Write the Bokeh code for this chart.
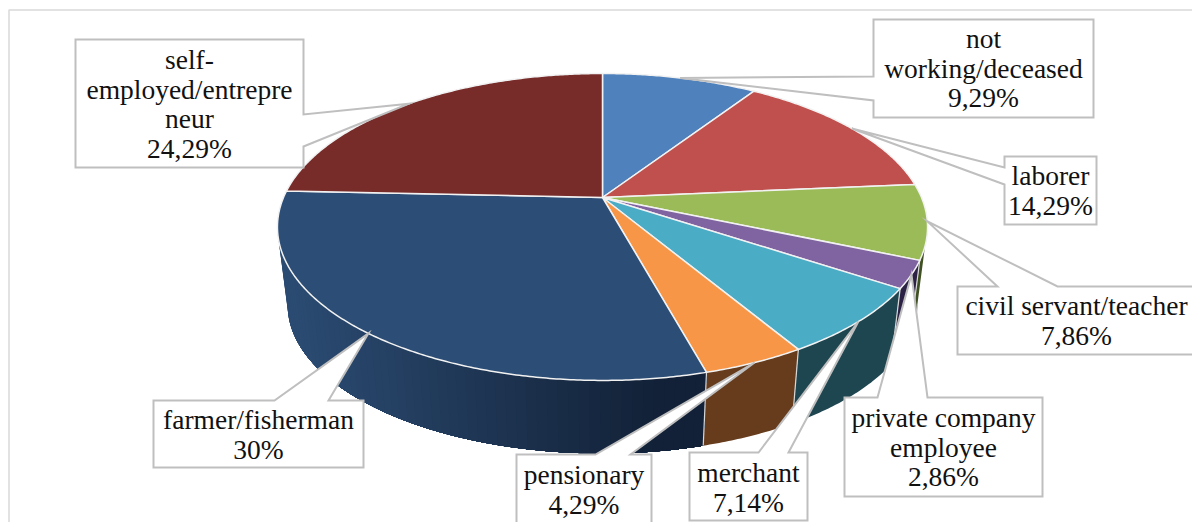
import math

from bokeh.core.properties import value
from bokeh.embed import file_html
from bokeh.plotting import figure
from bokeh.resources import INLINE

# Shares of respondents by occupation, clockwise from twelve o'clock
occupations = ["not working/deceased", "laborer", "civil servant/teacher",
               "private company employee", "merchant", "pensionary",
               "farmer/fisherman", "self-employed/entrepreneur"]
shares = [9.29, 14.29, 7.86, 2.86, 7.14, 4.29, 30.0, 24.29]
share_labels = ["9,29%", "14,29%", "7,86%", "2,86%", "7,14%", "4,29%", "30%", "24,29%"]
label_rows = [["not", "working/deceased"], ["laborer"], ["civil servant/teacher"],
              ["private company", "employee"], ["merchant"], ["pensionary"],
              ["farmer/fisherman"], ["self-", "employed/entrepre", "neur"]]

top_colors = ["#4f81bd", "#c0504d", "#9bbb59", "#8064a2", "#4bacc6", "#f79646", "#2c4d75", "#772c2a"]
wall_colors = ["#2a4568", "#663030", "#3f5022", "#2b2245", "#1e4650", "#663c1d", None, "#3f1817"]
FARMER_WALL_LEFT = (43, 75, 114)
FARMER_WALL_RIGHT = (18, 33, 55)

# Callout box (left, top, right, bottom), the side the pointer leaves from and
# the two points where it meets that side.
callouts = [
    ((873, 19, 1093, 117), "left", (76, 100)),
    ((1004, 156, 1096, 224), "left", (167, 184)),
    ((957, 286, 1198, 354), "top", (997, 1057)),
    ((844, 397, 1042, 496), "top", (877, 927)),
    ((689, 452, 807, 520), "top", (758, 788)),
    ((516, 454, 651, 530), "top", (595, 630)),
    ((153, 400, 363, 467), "top", (274, 328)),
    ((75, 39, 303, 167), "right", (114, 146)),
]
label_first_row_y = [38, 175, 305, 417, 472, 474, 419, 59]
LINE_STEP = 29.6

# Perspective disc: top face and the smaller, lower bottom face
CX = 602
TOP_FACE = dict(cy=197.0, r=319.0, a=147.8)
BOTTOM_FACE = dict(cy=276.0, r=309.0, a=143.0)
TILT = 0.192
# Angles where the wall's silhouette meets the top face
WALL_START, WALL_END = 101.0, 259.0


def project(angle, face):
    """Map a clockwise angle from twelve o'clock to page coordinates."""
    t = math.radians(angle)
    u, v = math.sin(t), -math.cos(t)
    s = 1.0 / (1.0 - TILT * v)
    return CX + face["r"] * u * s, face["cy"] + face["a"] * v * s


def arc(a0, a1, face, step=1.0):
    n = max(2, int(abs(a1 - a0) / step) + 1)
    pts = [project(a0 + (a1 - a0) * i / (n - 1), face) for i in range(n)]
    return [q[0] for q in pts], [q[1] for q in pts]


def wall_polygon(a0, a1):
    x0, y0 = arc(a0, a1, TOP_FACE, 0.5)
    x1, y1 = arc(a1, a0, BOTTOM_FACE, 0.5)
    return x0 + x1, y0 + y1


total = sum(shares)
edges = [0.0]
for share in shares:
    edges.append(edges[-1] + share / total * 360.0)

p = figure(width=1192, height=522, x_range=(0, 1192), y_range=(522, 0),
           output_backend="svg", toolbar_location=None, min_border=0)
p.axis.visible = False
p.grid.visible = False
p.outline_line_color = None
p.background_fill_color = "white"
p.border_fill_color = "white"

# Chart area frame, cut by the page on the right and at the bottom
p.line([8.5, 8.5, 1192], [522, 9.5, 9.5], line_color="#d9d9d9", line_width=1.5)

# Side walls. The shaded wall is painted as strips that each reach back to the
# slice's far end, so no background shows between neighbouring strips.
for i in range(len(shares)):
    a0, a1 = max(edges[i], WALL_START), min(edges[i + 1], WALL_END)
    if a1 <= a0:
        continue
    if wall_colors[i] is not None:
        xs, ys = wall_polygon(a0, a1)
        p.patch(xs, ys, fill_color=wall_colors[i], line_color=None)
        continue
    n = 60
    for k in range(n):
        b1 = a1 - (a1 - a0) * k / n
        xs, ys = wall_polygon(a0, b1)
        f = min(1.0, max(0.0, (project(b1, TOP_FACE)[0] - 287) / (650 - 287)))
        rgb = [round(l + (r - l) * f) for l, r in zip(FARMER_WALL_LEFT, FARMER_WALL_RIGHT)]
        p.patch(xs, ys, fill_color="#%02x%02x%02x" % tuple(rgb), line_color=None)

# Pale seams between neighbouring walls
for edge in edges[1:]:
    if WALL_START < edge < WALL_END:
        xa, ya = project(edge, TOP_FACE)
        xb, yb = project(edge, BOTTOM_FACE)
        p.line([xa, xb], [ya, yb], line_color="#d8d8d8", line_width=1.2)

# Top face
for i in range(len(shares)):
    xs, ys = arc(edges[i], edges[i + 1], TOP_FACE, 0.5)
    p.patch([CX] + xs, [TOP_FACE["cy"]] + ys, fill_color=top_colors[i],
            line_color="#f2f2f2", line_width=1.5, line_join="round")

# Callouts: the pointer tip sits on the rim at the slice's mid-angle
for i, (box, side, (g0, g1)) in enumerate(callouts):
    tx, ty = project((edges[i] + edges[i + 1]) / 2.0, TOP_FACE)
    left, top, right, bottom = box
    if side == "left":
        xs = [left, right, right, left, left, tx, left]
        ys = [top, top, bottom, bottom, g1, ty, g0]
    elif side == "right":
        xs = [left, right, right, tx, right, right, left]
        ys = [top, top, g0, ty, g1, bottom, bottom]
    else:
        xs = [left, g0, tx, g1, right, right, left]
        ys = [top, top, ty, top, top, bottom, bottom]
    p.patch(xs, ys, fill_color="white", line_color="#bfbfbf", line_width=2, line_join="miter")

# Label texts
tx, ty, tt = [], [], []
for i, (box, _, _) in enumerate(callouts):
    rows = label_rows[i] + [share_labels[i]]
    centre = 1076 if i == 2 else (box[0] + box[2]) / 2.0
    for r, row in enumerate(rows):
        tx.append(centre)
        ty.append(label_first_row_y[i] + r * LINE_STEP)
        tt.append(row)
p.text(tx, ty, text=tt, text_font=value("Liberation Serif"), text_font_size="27.5px",
       text_color="#111111", text_align="center", text_baseline="middle")

open("out.html", "w").write(file_html(p, INLINE))
